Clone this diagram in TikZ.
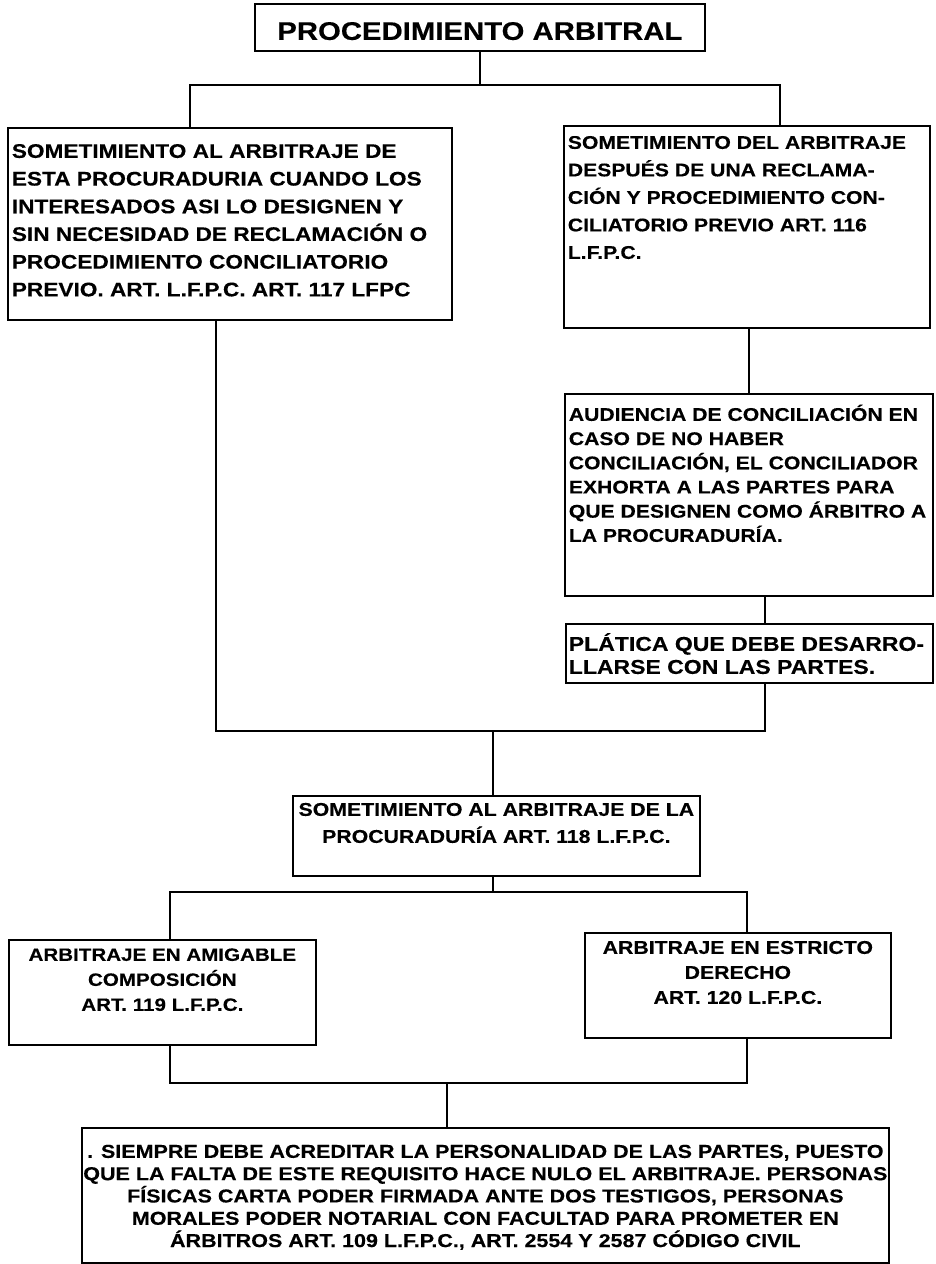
\documentclass[tikz,border=0pt]{standalone}
\usepackage{fontspec}
\setmainfont{Liberation Sans}[FakeStretch=1.15,BoldFeatures={FakeBold=0.3}]
\tikzset{
  box/.style={draw, line width=1.7pt, inner sep=0pt, anchor=north west},
  conn/.style={line width=1.7pt}
}
% #1 width, #2 height, #3 gap before first line, #4 settings, #5 text
\newcommand\bxt[5]{\begin{minipage}[t][#2pt][t]{#1pt}\parindent=0pt\bfseries#4\vspace*{#3pt}\rule{0pt}{20pt}\ignorespaces#5\end{minipage}}
\newcommand\fsz[2]{\fontsize{#1pt}{#2pt}\selectfont}
\begin{document}
\begin{tikzpicture}[x=1pt,y=-1pt]
\useasboundingbox (0,0) rectangle (936,1264);

\node[box] (title) at (254,3) {\bxt{450}{47}{16}{\fsz{25.5}{30}\centering}{PROCEDIMIENTO ARBITRAL}};

\node[box] (leftA) at (7,127) {\bxt{444}{192}{10}{\fsz{19.7}{27.7}\raggedright\leftskip=4pt}{%
\mbox{SOMETIMIENTO AL ARBITRAJE DE}\\
\mbox{ESTA PROCURADURIA CUANDO LOS}\\
\mbox{INTERESADOS ASI LO DESIGNEN Y}\\
\mbox{SIN NECESIDAD DE RECLAMACIÓN O}\\
\mbox{PROCEDIMIENTO CONCILIATORIO}\\
\mbox{PREVIO. ART. L.F.P.C. ART. 117 LFPC}}};

\node[box] (rightA) at (563,125) {\bxt{366}{202}{3}{\fsz{18.4}{27.5}\raggedright\leftskip=4pt}{%
\mbox{SOMETIMIENTO DEL ARBITRAJE}\\
\mbox{DESPUÉS DE UNA RECLAMA-}\\
\mbox{CIÓN Y PROCEDIMIENTO CON-}\\
\mbox{CILIATORIO PREVIO ART. 116}\\
\mbox{L.F.P.C.}}};

\node[box] (aud) at (564,393) {\bxt{368}{202}{7}{\fsz{18.4}{24.2}\raggedright\leftskip=4pt}{%
\mbox{AUDIENCIA DE CONCILIACIÓN EN}\\
\mbox{CASO DE NO HABER}\\
\mbox{CONCILIACIÓN, EL CONCILIADOR}\\
\mbox{EXHORTA A LAS PARTES PARA}\\
\mbox{QUE DESIGNEN COMO ÁRBITRO A}\\
\mbox{LA PROCURADURÍA.}}};

\node[box] (plat) at (565,623) {\bxt{367}{59}{7}{\fsz{20}{23}\raggedright\leftskip=3pt}{%
\mbox{PLÁTICA QUE DEBE DESARRO-}\\
\mbox{LLARSE CON LAS PARTES.}}};

\node[box] (center) at (292,795) {\bxt{407}{80}{0}{\fsz{18.5}{27}\centering}{%
\mbox{SOMETIMIENTO AL ARBITRAJE DE LA}\\
\mbox{PROCURADURÍA ART. 118 L.F.P.C.}}};

\node[box] (leftB) at (8,939) {\bxt{307}{105}{1}{\fsz{17.9}{25}\centering}{%
\mbox{ARBITRAJE EN AMIGABLE}\\
\mbox{COMPOSICIÓN}\\
\mbox{ART. 119 L.F.P.C.}}};

\node[box] (rightB) at (584,932) {\bxt{306}{105}{1}{\fsz{18.5}{25}\centering}{%
\mbox{ARBITRAJE EN ESTRICTO}\\
\mbox{DERECHO}\\
\mbox{ART. 120 L.F.P.C.}}};

\node[box] (bottom) at (81,1127) {\bxt{807}{135}{10}{\fsz{18.7}{22.3}\centering}{%
\mbox{. SIEMPRE DEBE ACREDITAR LA PERSONALIDAD DE LAS PARTES, PUESTO}\\
\mbox{QUE LA FALTA DE ESTE REQUISITO HACE NULO EL ARBITRAJE. PERSONAS}\\
\mbox{FÍSICAS CARTA PODER FIRMADA ANTE DOS TESTIGOS, PERSONAS}\\
\mbox{MORALES PODER NOTARIAL CON FACULTAD PARA PROMETER EN}\\
\mbox{ÁRBITROS ART. 109 L.F.P.C., ART. 2554 Y 2587 CÓDIGO CIVIL}}};

% connectors
\coordinate (a1) at (190,85);
\coordinate (a2) at (780,85);
\draw[conn] (title.south) -- (title.south |- a1);
\draw[conn] (a1 |- leftA.north) -- (a1) -- (a2) -- (a2 |- rightA.north);

\coordinate (c1) at (749,360);
\draw[conn] (c1 |- rightA.south) -- (c1 |- aud.north);
\coordinate (d1) at (765,610);
\draw[conn] (d1 |- aud.south) -- (d1 |- plat.north);

\coordinate (b1) at (216,731);
\coordinate (b2) at (765,731);
\draw[conn] (b1 |- leftA.south) -- (b1) -- (b2) -- (b2 |- plat.south);
\coordinate (e1) at (493,731);
\draw[conn] (e1) -- (e1 |- center.north);

\coordinate (f0) at (493,892);
\coordinate (f1) at (170,892);
\coordinate (f2) at (747,892);
\draw[conn] (f0 |- center.south) -- (f0);
\draw[conn] (f1 |- leftB.north) -- (f1) -- (f2) -- (f2 |- rightB.north);

\coordinate (g0) at (447,1083);
\coordinate (g1) at (170,1083);
\coordinate (g2) at (747,1083);
\draw[conn] (g1 |- leftB.south) -- (g1) -- (g2) -- (g2 |- rightB.south);
\draw[conn] (g0) -- (g0 |- bottom.north);
\end{tikzpicture}
\end{document}
